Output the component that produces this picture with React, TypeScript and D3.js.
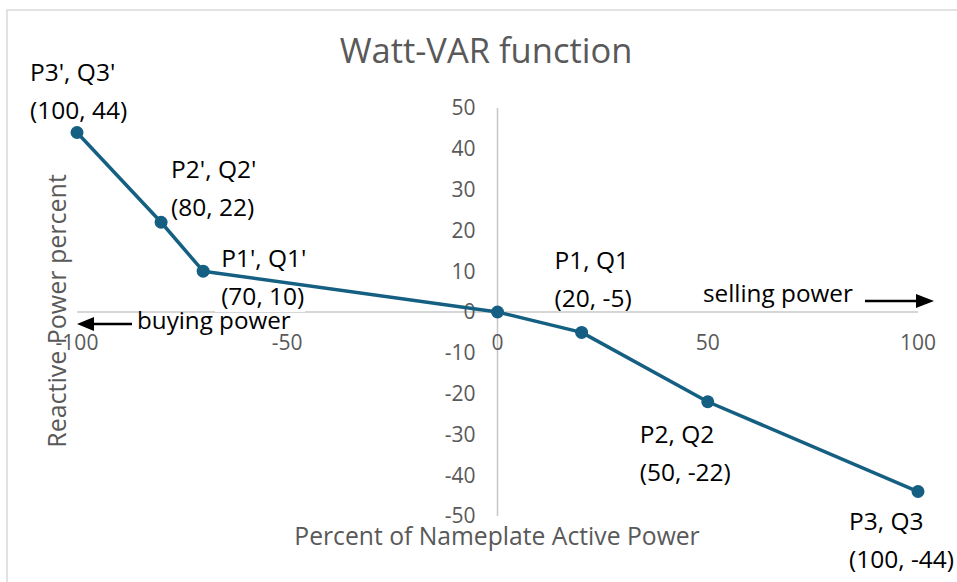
import React from 'react';
import * as d3 from 'd3';

const width = 957;
const height = 582;

// data: Watt-VAR curve points
const activePower = [-100, -80, -70, 0, 20, 50, 100];
const reactivePower = [44, 22, 10, 0, -5, -22, -44];
const pointNames = ["P3', Q3'", "P2', Q2'", "P1', Q1'", null, 'P1, Q1', 'P2, Q2', 'P3, Q3'];
const pointCoords = ['(100, 44)', '(80, 22)', '(70, 10)', null, '(20, -5)', '(50, -22)', '(100, -44)'];
// label offsets from each point, in px
const labelDx = [-47, 10, 18, 0, -27, -68, -69];
const labelDy = [-51, -44, -4, 0, -63, 41, 38];

const xTicks = [-100, -50, 0, 50, 100];
const yTicks = [50, 40, 30, 20, 10, 0, -10, -20, -30, -40, -50];

const title = 'Watt-VAR function';
const xTitle = 'Percent of Nameplate Active Power';
const yTitle = 'Reactive Power percent';

const font = "'Open Sans', sans-serif";
const grey = '#595959';
const lineColor = '#156082';

const x = d3.scaleLinear().domain([-100, 100]).range([77, 918]);
const y = d3.scaleLinear().domain([-50, 50]).range([516, 108]);

export default function App() {
  const pts = activePower.map((p, i) => [p, reactivePower[i]] as [number, number]);
  const line = d3.line<[number, number]>().x(d => x(d[0])).y(d => y(d[1]));

  return (
    <svg width={width} height={height} style={{ position: 'absolute', left: 0, top: 0, background: '#fff' }}
      fontFamily={font}>
      <rect x={0} y={0} width={width} height={height} fill='#fff' />
      {/* chart frame (cropped at right/bottom) */}
      <path d={`M7,${height} L7,10 L${width},10`} fill='none' stroke='#d9d9d9' strokeWidth={1.5} />

      <text x={486} y={63} textAnchor='middle' fontSize={34.5} fill={grey}>{title}</text>

      {/* axes */}
      <line x1={x(-100)} x2={x(100)} y1={y(0)} y2={y(0)} stroke='#c8c8c8' strokeWidth={1.5} />
      <line x1={x(0)} x2={x(0)} y1={y(50)} y2={y(-50)} stroke='#c8c8c8' strokeWidth={1.5} />

      {xTicks.map(t => (
        <text key={'x' + t} x={x(t)} y={y(0) + 38} textAnchor='middle' fontSize={21} fill={grey}>{t}</text>
      ))}
      {yTicks.map(t => (
        <text key={'y' + t} x={x(0) - 22} y={y(t)} dy='0.35em' textAnchor='end' fontSize={21} fill={grey}>{t}</text>
      ))}

      <text x={497} y={545} textAnchor='middle' fontSize={24.7} fill={grey}>{xTitle}</text>
      <text transform={`translate(66,311) rotate(-90)`} textAnchor='middle' fontSize={25} fill={grey}>{yTitle}</text>

      {/* white patch that hides the bottom of "(70, 10)" as in the source */}
      <rect x={215} y={307} width={90} height={5} fill='#fff' />

      {/* curve */}
      <path d={line(pts) || ''} fill='none' stroke={lineColor} strokeWidth={3.5} strokeLinejoin='round' />
      {pts.map((d, i) => (
        <circle key={'c' + i} cx={x(d[0])} cy={y(d[1])} r={6.5} fill={lineColor} />
      ))}

      {/* point labels */}
      {pts.map((d, i) => pointNames[i] ? (
        <g key={'l' + i} fontSize={24.5} fill='#000'>
          <text x={x(d[0]) + labelDx[i]} y={y(d[1]) + labelDy[i]}>{pointNames[i]}</text>
          <text x={x(d[0]) + labelDx[i]} y={y(d[1]) + labelDy[i] + 38}>{pointCoords[i]}</text>
        </g>
      ) : null)}

      {/* direction notes */}
      <text x={703} y={302} fontSize={24.3} fill='#000'>selling power</text>
      <line x1={865} x2={918} y1={301} y2={301} stroke='#000' strokeWidth={2.5} />
      <path d='M916,294 L934,301 L916,308 Z' fill='#000' />

      <text x={137} y={329} fontSize={24.2} fill='#000'>buying power</text>
      <line x1={92} x2={132} y1={324} y2={324} stroke='#000' strokeWidth={2.5} />
      <path d='M94,317 L77,324 L94,331 Z' fill='#000' />
    </svg>
  );
}
